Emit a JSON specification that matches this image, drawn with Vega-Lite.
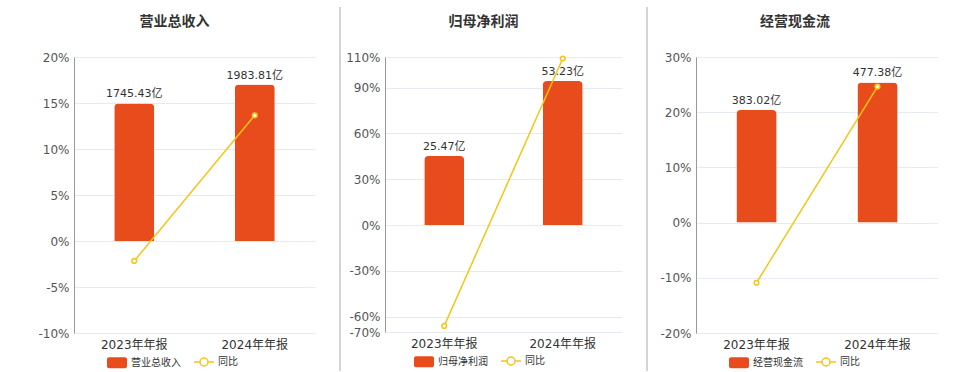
{
  "$schema": "https://vega.github.io/schema/vega-lite/v6.json",
  "padding": {"left": 34, "top": 6, "right": 0, "bottom": 0},
  "spacing": 4,
  "resolve": {"scale": {"color": "independent"}, "legend": {"color": "independent"}},
  "config": {
    "view": {"stroke": null},
    "font": "DejaVu Sans, Noto Sans CJK SC, sans-serif",
    "title": {"fontSize": 14, "fontWeight": "bold", "color": "#333333", "frame": "bounds", "anchor": "middle", "offset": 22},
    "axisX": {"title": null, "labelAngle": 0, "domain": false, "ticks": false, "grid": false, "labelFontSize": 12, "labelColor": "#333333", "labelPadding": 6, "minExtent": 18, "maxExtent": 18},
    "legend": {"title": null, "direction": "horizontal", "labelFontSize": 10, "labelColor": "#333333", "symbolSize": 400, "labelOffset": 9, "columnPadding": 10, "padding": 0}
  },
  "datasets": {
    "p1": [
      {"period": "2023年年报", "value": 1745.43, "yoy": -2.17, "s": "营业总收入", "label": "1745.43亿"},
      {"period": "2024年年报", "value": 1983.81, "yoy": 13.66, "s": "营业总收入", "label": "1983.81亿"}
    ],
    "p2": [
      {"period": "2023年年报", "value": 25.47, "yoy": -66.0, "s": "归母净利润", "label": "25.47亿"},
      {"period": "2024年年报", "value": 53.23, "yoy": 109.0, "s": "归母净利润", "label": "53.23亿"}
    ],
    "p3": [
      {"period": "2023年年报", "value": 383.02, "yoy": -10.9, "s": "经营现金流", "label": "383.02亿"},
      {"period": "2024年年报", "value": 477.38, "yoy": 24.64, "s": "经营现金流", "label": "477.38亿"}
    ],
    "sep": [{"p": 1}]
  },
  "hconcat": [
    {
      "width": 241, "height": 276,
      "title": {"text": "营业总收入"},
      "data": {"name": "p1"},
      "encoding": {"x": {"field": "period", "type": "nominal", "sort": null, "scale": {"paddingInner": 0, "paddingOuter": 0}}},
      "layer": [
        {"mark": {"type": "bar", "width": {"band": 0.332}, "cornerRadiusTopLeft": 4, "cornerRadiusTopRight": 4},
         "encoding": {
           "y": {"field": "value", "type": "quantitative", "scale": {"domain": [-1167, 2334], "nice": false, "zero": false}, "axis": null},
           "color": {"field": "s", "type": "nominal", "scale": {"domain": ["营业总收入", "同比"], "range": ["#e84c1c", "#f5c518"]},
             "legend": {"orient": "none", "legendX": 38, "legendY": 300, "symbolSize": 400, "encode": {"symbols": {"update": {
               "shape": {"signal": "datum.value === '同比' ? 'M-1,0H-0.4M0.4,0H1M0.4,0A0.4,0.4 0 1 1 -0.4,0A0.4,0.4 0 1 1 0.4,0Z' : 'M-0.8,-0.55H0.8A0.2,0.2 0 0 1 1,-0.35V0.35A0.2,0.2 0 0 1 0.8,0.55H-0.8A0.2,0.2 0 0 1 -1,0.35V-0.35A0.2,0.2 0 0 1 -0.8,-0.55Z'"},
               "fill": {"signal": "datum.value === '同比' ? '#ffffff' : '#e84c1c'"},
               "stroke": {"signal": "datum.value === '同比' ? '#f5c518' : '#e84c1c'"},
               "strokeWidth": {"signal": "datum.value === '同比' ? 1.5 : 0"},
               "opacity": {"value": 1}, "fillOpacity": {"signal": "datum.value === '同比' ? 0 : 1"}, "size": {"value": 400}}}}}}
         }},
        {"mark": {"type": "text", "baseline": "bottom", "dy": -4, "fontSize": 11, "color": "#333333"},
         "encoding": {
           "y": {"field": "value", "type": "quantitative", "scale": {"domain": [-1167, 2334], "nice": false, "zero": false}, "axis": null},
           "text": {"field": "label"}
         }},
        {"mark": {"type": "rule", "color": "#666666", "strokeWidth": 1.5},
         "encoding": {"y": {"datum": 0, "type": "quantitative", "scale": {"domain": [-10, 20], "nice": false, "zero": false}, "axis": null}}},
        {"mark": {"type": "line", "color": "#f5c518", "strokeWidth": 1.5, "point": {"filled": false, "fill": "#ffffff", "size": 22, "strokeWidth": 1.5, "color": "#f5c518"}},
         "encoding": {"y": {"field": "yoy", "type": "quantitative", "scale": {"domain": [-10, 20], "nice": false, "zero": false},
           "axis": {"orient": "left", "title": null, "values": [-10, -5, 0, 5, 10, 15, 20], "labelExpr": "datum.value + '%'", "grid": true, "gridColor": "#e6eaf3", "domain": true, "domainColor": "#999999", "ticks": false, "labelPadding": 5, "labelFontSize": 12, "labelColor": "#555555", "minExtent": 40, "maxExtent": 40}}}}
      ],
      "resolve": {"scale": {"y": "independent"}}
    },
    {
      "width": 21, "height": 276,
      "data": {"name": "sep"},
      "mark": {"type": "rule", "color": "#d4d4d4", "strokeWidth": 2},
      "encoding": {
        "x": {"field": "p", "type": "quantitative", "scale": {"domain": [0, 1], "nice": false, "zero": false}, "axis": null},
        "y": {"datum": -0.138, "type": "quantitative", "scale": {"domain": [0, 1], "nice": false, "zero": false}, "axis": null},
        "y2": {"datum": 1.181}
      }
    },
    {
      "width": 237, "height": 275,
      "title": {"text": "归母净利润"},
      "data": {"name": "p2"},
      "encoding": {"x": {"field": "period", "type": "nominal", "sort": null, "scale": {"paddingInner": 0, "paddingOuter": 0}}},
      "layer": [
        {"mark": {"type": "bar", "width": {"band": 0.337}, "cornerRadiusTopLeft": 4, "cornerRadiusTopRight": 4},
         "encoding": {
           "y": {"field": "value", "type": "quantitative", "scale": {"domain": [-39.51, 62.09], "nice": false, "zero": false}, "axis": null},
           "color": {"field": "s", "type": "nominal", "scale": {"domain": ["归母净利润", "同比"], "range": ["#e84c1c", "#f5c518"]},
             "legend": {"orient": "none", "legendX": 34, "legendY": 299, "symbolSize": 400, "encode": {"symbols": {"update": {
               "shape": {"signal": "datum.value === '同比' ? 'M-1,0H-0.4M0.4,0H1M0.4,0A0.4,0.4 0 1 1 -0.4,0A0.4,0.4 0 1 1 0.4,0Z' : 'M-0.8,-0.55H0.8A0.2,0.2 0 0 1 1,-0.35V0.35A0.2,0.2 0 0 1 0.8,0.55H-0.8A0.2,0.2 0 0 1 -1,0.35V-0.35A0.2,0.2 0 0 1 -0.8,-0.55Z'"},
               "fill": {"signal": "datum.value === '同比' ? '#ffffff' : '#e84c1c'"},
               "stroke": {"signal": "datum.value === '同比' ? '#f5c518' : '#e84c1c'"},
               "strokeWidth": {"signal": "datum.value === '同比' ? 1.5 : 0"},
               "opacity": {"value": 1}, "fillOpacity": {"signal": "datum.value === '同比' ? 0 : 1"}, "size": {"value": 400}}}}}}
         }},
        {"mark": {"type": "text", "baseline": "bottom", "dy": -4, "fontSize": 11, "color": "#333333"},
         "encoding": {
           "y": {"field": "value", "type": "quantitative", "scale": {"domain": [-39.51, 62.09], "nice": false, "zero": false}, "axis": null},
           "text": {"field": "label"}
         }},
        {"mark": {"type": "rule", "color": "#666666", "strokeWidth": 1.5},
         "encoding": {"y": {"datum": 0, "type": "quantitative", "scale": {"domain": [-70, 110], "nice": false, "zero": false}, "axis": null}}},
        {"mark": {"type": "line", "color": "#f5c518", "strokeWidth": 1.5, "point": {"filled": false, "fill": "#ffffff", "size": 22, "strokeWidth": 1.5, "color": "#f5c518"}},
         "encoding": {"y": {"field": "yoy", "type": "quantitative", "scale": {"domain": [-70, 110], "nice": false, "zero": false},
           "axis": {"orient": "left", "title": null, "values": [-70, -60, -30, 0, 30, 60, 90, 110], "labelExpr": "datum.value + '%'", "grid": true, "gridColor": "#e6eaf3", "domain": true, "domainColor": "#999999", "ticks": false, "labelPadding": 5, "labelFontSize": 12, "labelColor": "#555555", "minExtent": 40, "maxExtent": 40}}}}
      ],
      "resolve": {"scale": {"y": "independent"}}
    },
    {
      "width": 21, "height": 276,
      "data": {"name": "sep"},
      "mark": {"type": "rule", "color": "#d4d4d4", "strokeWidth": 2},
      "encoding": {
        "x": {"field": "p", "type": "quantitative", "scale": {"domain": [0, 1], "nice": false, "zero": false}, "axis": null},
        "y": {"datum": -0.138, "type": "quantitative", "scale": {"domain": [0, 1], "nice": false, "zero": false}, "axis": null},
        "y2": {"datum": 1.181}
      }
    },
    {
      "width": 242, "height": 276,
      "title": {"text": "经营现金流"},
      "data": {"name": "p3"},
      "encoding": {"x": {"field": "period", "type": "nominal", "sort": null, "scale": {"paddingInner": 0, "paddingOuter": 0}}},
      "layer": [
        {"mark": {"type": "bar", "width": {"band": 0.332}, "cornerRadiusTopLeft": 4, "cornerRadiusTopRight": 4},
         "encoding": {
           "y": {"field": "value", "type": "quantitative", "scale": {"domain": [-375.9, 563.8], "nice": false, "zero": false}, "axis": null},
           "color": {"field": "s", "type": "nominal", "scale": {"domain": ["经营现金流", "同比"], "range": ["#e84c1c", "#f5c518"]},
             "legend": {"orient": "none", "legendX": 38, "legendY": 300, "symbolSize": 400, "encode": {"symbols": {"update": {
               "shape": {"signal": "datum.value === '同比' ? 'M-1,0H-0.4M0.4,0H1M0.4,0A0.4,0.4 0 1 1 -0.4,0A0.4,0.4 0 1 1 0.4,0Z' : 'M-0.8,-0.55H0.8A0.2,0.2 0 0 1 1,-0.35V0.35A0.2,0.2 0 0 1 0.8,0.55H-0.8A0.2,0.2 0 0 1 -1,0.35V-0.35A0.2,0.2 0 0 1 -0.8,-0.55Z'"},
               "fill": {"signal": "datum.value === '同比' ? '#ffffff' : '#e84c1c'"},
               "stroke": {"signal": "datum.value === '同比' ? '#f5c518' : '#e84c1c'"},
               "strokeWidth": {"signal": "datum.value === '同比' ? 1.5 : 0"},
               "opacity": {"value": 1}, "fillOpacity": {"signal": "datum.value === '同比' ? 0 : 1"}, "size": {"value": 400}}}}}}
         }},
        {"mark": {"type": "text", "baseline": "bottom", "dy": -4, "fontSize": 11, "color": "#333333"},
         "encoding": {
           "y": {"field": "value", "type": "quantitative", "scale": {"domain": [-375.9, 563.8], "nice": false, "zero": false}, "axis": null},
           "text": {"field": "label"}
         }},
        {"mark": {"type": "rule", "color": "#666666", "strokeWidth": 1.5},
         "encoding": {"y": {"datum": 0, "type": "quantitative", "scale": {"domain": [-20, 30], "nice": false, "zero": false}, "axis": null}}},
        {"mark": {"type": "line", "color": "#f5c518", "strokeWidth": 1.5, "point": {"filled": false, "fill": "#ffffff", "size": 22, "strokeWidth": 1.5, "color": "#f5c518"}},
         "encoding": {"y": {"field": "yoy", "type": "quantitative", "scale": {"domain": [-20, 30], "nice": false, "zero": false},
           "axis": {"orient": "left", "title": null, "values": [-20, -10, 0, 10, 20, 30], "labelExpr": "datum.value + '%'", "grid": true, "gridColor": "#e6eaf3", "domain": true, "domainColor": "#999999", "ticks": false, "labelPadding": 5, "labelFontSize": 12, "labelColor": "#555555", "minExtent": 44, "maxExtent": 44}}}}
      ],
      "resolve": {"scale": {"y": "independent"}}
    }
  ]
}
